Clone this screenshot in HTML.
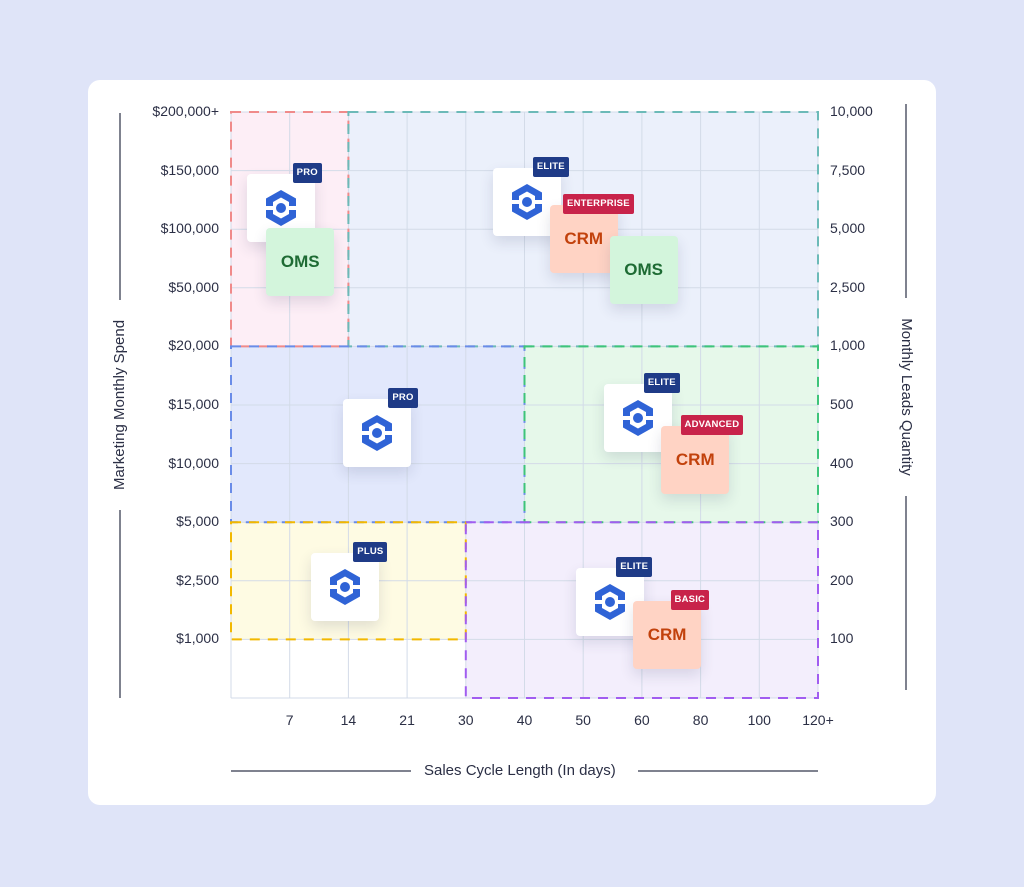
<!DOCTYPE html>
<html><head><meta charset="utf-8">
<style>
body{margin:0;width:1024px;height:887px;background:#dfe4f8;font-family:"Liberation Sans",sans-serif;position:relative;overflow:hidden}
#card{position:absolute;left:88px;top:80px;width:848px;height:725px;background:#fff;border-radius:12px}
.lab{position:absolute;font-size:14px;color:#2b2f45;white-space:nowrap}
.tile{position:absolute;width:68px;height:68px;border-radius:4px;box-shadow:0 6px 14px rgba(40,50,90,0.14);display:flex;align-items:center;justify-content:center;font-weight:bold;font-size:17px}
.badge{position:absolute;height:20px;line-height:20px;padding:0 4px;font-size:9.5px;font-weight:bold;color:#fff;border-radius:2px;letter-spacing:.2px}
</style></head><body>
<div id="card"></div>
<svg id="plot" width="1024" height="887" style="position:absolute;left:0;top:0"></svg>
<div id="layer" style="position:absolute;left:0;top:0;width:1024px;height:887px"></div>
<script>
const xTicks=["7","14","21","30","40","50","60","80","100","120+"];
const yLeftTicks=["$200,000+","$150,000","$100,000","$50,000","$20,000","$15,000","$10,000","$5,000","$2,500","$1,000"];
const yRightTicks=["10,000","7,500","5,000","2,500","1,000","500","400","300","200","100"];
const regionNames=["enterprise-zone","large-zone","mid-zone","growth-zone","small-zone","basic-zone"];
const regionBounds=[[0,2,0,4],[2,10,0,4],[0,5,4,7],[5,10,4,7],[0,4,7,9],[4,10,7,10]];
const regionFill=["#fdeef6","#ebf0fb","#e2e8fc","#e6f8ea","#fefbe3","#f3eefc"];
const regionStroke=["#f08a8a","#6cbab8","#6a8ce8","#3ec47a","#f2b800","#a15df0"];
const tileTypes=["logo","oms","logo","crm","oms","logo","logo","crm","logo","logo","crm"];
const tileCol=[0.27,0.6,4.46,5.43,6.45,1.9,6.35,7.33,1.37,5.88,6.85];
const tileRow=[1.05,1.98,0.95,1.58,2.11,4.9,4.65,5.35,7.52,7.79,8.35];
const tileBadge=["PRO","","ELITE","ENTERPRISE","","PRO","ELITE","ADVANCED","PLUS","ELITE","BASIC"];
const badgeOverhang=[7,0,8,16,0,7,8,14,8,8,8];
const X0=231,Y0=112,CW=58.7,RH=58.6;
const sx=c=>X0+c*CW, sy=r=>Y0+r*RH;
const NS="http://www.w3.org/2000/svg";
const svg=document.getElementById('plot');
function mk(t,a){const e=document.createElementNS(NS,t);for(const k in a)e.setAttribute(k,a[k]);svg.appendChild(e);return e;}
regionBounds.forEach((b,i)=>{const r=mk('rect',{x:sx(b[0]),y:sy(b[2]),width:sx(b[1])-sx(b[0]),height:sy(b[3])-sy(b[2]),fill:regionFill[i]});

});
for(let i=0;i<=10;i++){
 const l=mk('line',{x1:sx(i),x2:sx(i),y1:sy(0),y2:sy(10),stroke:"#d3dbe8","stroke-width":1});
 
 
 const h=mk('line',{x1:sx(0),x2:sx(10),y1:sy(i),y2:sy(i),stroke:"#d3dbe8","stroke-width":1});
 
 
}
regionBounds.forEach((b,i)=>{const r=mk('rect',{x:sx(b[0]),y:sy(b[2]),width:sx(b[1])-sx(b[0]),height:sy(b[3])-sy(b[2]),fill:"none",stroke:regionStroke[i],"stroke-width":2,"stroke-dasharray":"10 8"});

});
[[120,113,120,300],[120,510,120,698],[906,104,906,298],[906,496,906,690],[231,771,411,771],[638,771,818,771]].forEach(p=>{const l=mk('line',{x1:p[0],y1:p[1],x2:p[2],y2:p[3],stroke:"#55586a","stroke-width":1.5});

});
const layer=document.getElementById('layer');
function div(cls,css,txt){const d=document.createElement('div');d.className=cls;d.style.cssText=css;if(txt!==undefined)d.textContent=txt;layer.appendChild(d);return d;}
xTicks.forEach((t,i)=>{const d=div('lab',`left:${sx(i+1)-30}px;top:712px;width:60px;text-align:center`,t);

});
yLeftTicks.forEach((t,i)=>{const d=div('lab',`left:120px;top:${sy(i)-9}px;width:99px;text-align:right`,t);

});
yRightTicks.forEach((t,i)=>{const d=div('lab',`left:830px;top:${sy(i)-9}px`,t);

});
let d=div('lab','left:424px;top:762px;font-size:15px','Sales Cycle Length (In days)');


d=div('lab','left:20px;top:396px;width:200px;text-align:center;font-size:15px;transform:rotate(-90deg);transform-origin:100px 9px','Marketing Monthly Spend');


d=div('lab','left:806px;top:388px;width:200px;text-align:center;font-size:15px;transform:rotate(90deg);transform-origin:100px 9px','Monthly Leads Quantity');


const logoSvg='<svg width="34" height="38" viewBox="0 0 34 38"><path d="M17 1 L32 9.5 L32 17 L25 17 L25 13 L17 8.5 L9 13 L9 17 L2 17 L2 9.5 Z" fill="#2f63d6"/><path d="M17 37 L32 28.5 L32 21 L25 21 L25 25 L17 29.5 L9 25 L9 21 L2 21 L2 28.5 Z" fill="#2f63d6"/><circle cx="17" cy="19" r="5" fill="#2f63d6"/></svg>';
tileTypes.forEach((t,i)=>{
 const x=sx(tileCol[i]),y=sy(tileRow[i]);
 const bg=t==='logo'?'#fff':t==='oms'?'#d3f5dc':'#ffd3c4';
 const col=t==='oms'?'#1e6b34':'#c2410c';
 const e=div('tile',`left:${x}px;top:${y}px;background:${bg};color:${col}`);
 if(t==='logo')e.innerHTML=logoSvg;else e.textContent=t.toUpperCase();
 
 
 if(tileBadge[i]){
  const red=t==='crm';
  const b=div('badge',`right:${1024-(x+68+badgeOverhang[i])}px;top:${y-11}px;background:${red?'#c8234a':'#1f3b87'}`,tileBadge[i]);
  
  
 }
});
</script>
</body></html>
